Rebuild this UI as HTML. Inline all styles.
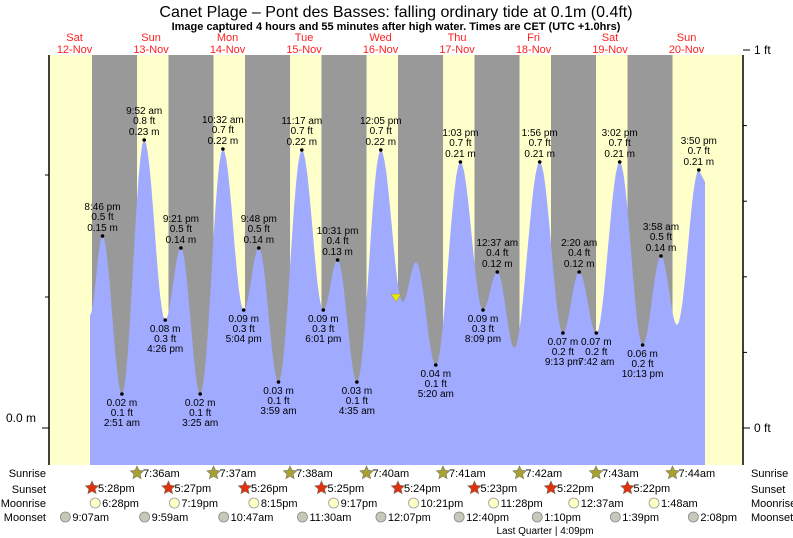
<!DOCTYPE html>
<html><head><meta charset="utf-8"><style>
body{margin:0;background:#fff;}
svg{display:block;font-family:"Liberation Sans",sans-serif;}
</style></head><body>
<svg id="s" width="793" height="538" viewBox="0 0 793 538">
<text x="396" y="17" font-size="16" text-anchor="middle">Canet Plage – Pont des Basses: falling  ordinary tide at 0.1m (0.4ft)</text>
<text x="396" y="30" font-size="11" font-weight="bold" text-anchor="middle">Image captured 4 hours and 55 minutes after high water. Times are CET (UTC +1.0hrs)</text>
<g id="g"></g>
</svg>
<script>
var g=document.getElementById('g'),h='';
var X0=36.3,D=76.5,L=49,R=743,T=55,B=465;
function x(d,hr){return X0+D*(d+hr/24);}
h+='<rect x="'+L+'" y="'+T+'" width="'+(R-L)+'" height="'+(B-T)+'" fill="#ffffcc"/>';
for(var d=0;d<8;d++){var a=x(d,17.47),b=x(d+1,7.6);h+='<rect x="'+a+'" y="'+T+'" width="'+(b-a)+'" height="'+(B-T)+'" fill="#999999"/>';}
var days=[['Sat','12-Nov'],['Sun','13-Nov'],['Mon','14-Nov'],['Tue','15-Nov'],['Wed','16-Nov'],['Thu','17-Nov'],['Fri','18-Nov'],['Sat','19-Nov'],['Sun','20-Nov']];
days.forEach(function(v,i){var cx=x(i,12);h+='<text x="'+cx+'" y="41" font-size="11" fill="#ff2020" text-anchor="middle">'+v[0]+'</text><text x="'+cx+'" y="53" font-size="11" fill="#ff2020" text-anchor="middle">'+v[1]+'</text>';});
var E=[[90,315],[102.5,236],[121.9,394],[144.2,140],[165.2,320],[180.9,248],[200.2,394],[222.9,149],[243.7,310],[258.8,248],[278.5,382],[301.8,150],[323.3,310],[337.6,260],[356.9,382],[380.8,150],[402.7,302],[416,262],[435.8,365],[460.4,162],[483,310],[497.3,272],[514.4,348],[539.7,162],[562.9,333],[579.2,272],[596.3,333],[619.7,162],[642.6,345],[661,256],[677,325],[698.8,170],[705,182]];
var p='M90,'+B+' L90,315';
for(var i=0;i<E.length-1;i++){var a=E[i],b=E[i+1];for(var k=1;k<=12;k++){var t=k/12,yy=a[1]+(b[1]-a[1])*(1-Math.cos(Math.PI*t))/2;if(i==E.length-2)yy=a[1]+(b[1]-a[1])*t;p+=' L'+(a[0]+(b[0]-a[0])*t).toFixed(1)+','+yy.toFixed(1);}}
p+=' L705,'+B+' Z';
h+='<path d="'+p+'" fill="#a0aaff"/>';
var HL=[[102.5,236,'8:46 pm','0.5 ft','0.15 m',1],[121.9,394,'2:51 am','0.1 ft','0.02 m',0],[144.2,140,'9:52 am','0.8 ft','0.23 m',1],[165.2,320,'4:26 pm','0.3 ft','0.08 m',0],[180.9,248,'9:21 pm','0.5 ft','0.14 m',1],[200.2,394,'3:25 am','0.1 ft','0.02 m',0],[222.9,149,'10:32 am','0.7 ft','0.22 m',1],[243.7,310,'5:04 pm','0.3 ft','0.09 m',0],[258.8,248,'9:48 pm','0.5 ft','0.14 m',1],[278.5,382,'3:59 am','0.1 ft','0.03 m',0],[301.8,150,'11:17 am','0.7 ft','0.22 m',1],[323.3,310,'6:01 pm','0.3 ft','0.09 m',0],[337.6,260,'10:31 pm','0.4 ft','0.13 m',1],[356.9,382,'4:35 am','0.1 ft','0.03 m',0],[380.8,150,'12:05 pm','0.7 ft','0.22 m',1],[435.8,365,'5:20 am','0.1 ft','0.04 m',0],[460.4,162,'1:03 pm','0.7 ft','0.21 m',1],[483,310,'8:09 pm','0.3 ft','0.09 m',0],[497.3,272,'12:37 am','0.4 ft','0.12 m',1],[539.7,162,'1:56 pm','0.7 ft','0.21 m',1],[562.9,333,'9:13 pm','0.2 ft','0.07 m',0],[579.2,272,'2:20 am','0.4 ft','0.12 m',1],[596.3,333,'7:42 am','0.2 ft','0.07 m',0],[619.7,162,'3:02 pm','0.7 ft','0.21 m',1],[642.6,345,'10:13 pm','0.2 ft','0.06 m',0],[661,256,'3:58 am','0.5 ft','0.14 m',1],[698.8,170,'3:50 pm','0.7 ft','0.21 m',1]];
HL.forEach(function(v){h+='<circle cx="'+v[0]+'" cy="'+v[1]+'" r="1.8" fill="#000"/>';var f=' font-size="10" text-anchor="middle">';
if(v[5]){h+='<text x="'+v[0]+'" y="'+(v[1]-26)+'"'+f+v[2]+'</text><text x="'+v[0]+'" y="'+(v[1]-16)+'"'+f+v[3]+'</text><text x="'+v[0]+'" y="'+(v[1]-5)+'"'+f+v[4]+'</text>';}
else{h+='<text x="'+v[0]+'" y="'+(v[1]+12)+'"'+f+v[4]+'</text><text x="'+v[0]+'" y="'+(v[1]+22)+'"'+f+v[3]+'</text><text x="'+v[0]+'" y="'+(v[1]+32)+'"'+f+v[2]+'</text>';}});
h+='<polygon points="391,294 401,294 396,302" fill="#e8e800" stroke="#888" stroke-width="0.5"/>';
h+='<line x1="'+L+'" y1="'+T+'" x2="'+L+'" y2="'+B+'" stroke="#000" stroke-width="1.5"/>';
h+='<line x1="'+R+'" y1="'+T+'" x2="'+R+'" y2="'+B+'" stroke="#000" stroke-width="1.5"/>';
for(var j=0;j<=5;j++){var yy=428-j*75.6;h+='<line x1="'+R+'" y1="'+yy+'" x2="'+(R+(j%5?4:7))+'" y2="'+yy+'" stroke="#000"/>';}
h+='<line x1="42" y1="428" x2="'+L+'" y2="428" stroke="#000"/><line x1="45" y1="175" x2="'+L+'" y2="175" stroke="#000"/><line x1="45" y1="297" x2="'+L+'" y2="297" stroke="#000"/>';
h+='<text x="754" y="54" font-size="12">1 ft</text><text x="754" y="432" font-size="12">0 ft</text><text x="6" y="422" font-size="12">0.0 m</text>';
var rows=[['Sunrise',477],['Sunset',493],['Moonrise',507],['Moonset',521]];
rows.forEach(function(r){h+='<text x="46" y="'+r[1]+'" font-size="11" text-anchor="end">'+r[0]+'</text><text x="751" y="'+r[1]+'" font-size="11">'+r[0]+'</text>';});
function star(cx,cy,fill){var s='';for(var k=0;k<10;k++){var a=-Math.PI/2+k*Math.PI/5,rr=k%2?3.3:7;s+=(cx+rr*Math.cos(a)).toFixed(1)+','+(cy+rr*Math.sin(a)).toFixed(1)+' ';}return '<polygon points="'+s+'" fill="'+fill+'" stroke="#776" stroke-width="0.6"/>';}
var sr=['7:36am','7:37am','7:38am','7:40am','7:41am','7:42am','7:43am','7:44am'];
sr.forEach(function(t,i){var cx=x(i+1,7.6);h+=star(cx,473,'#a8a030')+'<text x="'+(cx+6)+'" y="477" font-size="11">'+t+'</text>';});
var ss=['5:28pm','5:27pm','5:26pm','5:25pm','5:24pm','5:23pm','5:22pm','5:22pm'];
ss.forEach(function(t,i){var cx=x(i,17.47);h+=star(cx,488,'#e03010')+'<text x="'+(cx+6)+'" y="492" font-size="11">'+t+'</text>';});
var mr=[[0,18.47,'6:28pm'],[1,19.32,'7:19pm'],[2,20.25,'8:15pm'],[3,21.28,'9:17pm'],[4,22.35,'10:21pm'],[5,23.47,'11:28pm'],[7,0.62,'12:37am'],[8,1.8,'1:48am']];
mr.forEach(function(v){var cx=x(v[0],v[1]);h+='<circle cx="'+cx+'" cy="503" r="5" fill="#ffffc8" stroke="#999" stroke-width="0.8"/><text x="'+(cx+7)+'" y="507" font-size="11">'+v[2]+'</text>';});
var ms=[[9.12,'9:07am'],[9.98,'9:59am'],[10.78,'10:47am'],[11.5,'11:30am'],[12.12,'12:07pm'],[12.67,'12:40pm'],[13.17,'1:10pm'],[13.65,'1:39pm'],[14.13,'2:08pm']];
ms.forEach(function(v,i){var cx=x(i,v[0]);h+='<circle cx="'+cx+'" cy="517" r="5" fill="#c8c8b8" stroke="#888" stroke-width="0.8"/><text x="'+(cx+7)+'" y="521" font-size="11">'+v[1]+'</text>';});
h+='<text x="545" y="534" font-size="10" text-anchor="middle">Last Quarter | 4:09pm</text>';
g.innerHTML=h;
</script>
</body></html>
